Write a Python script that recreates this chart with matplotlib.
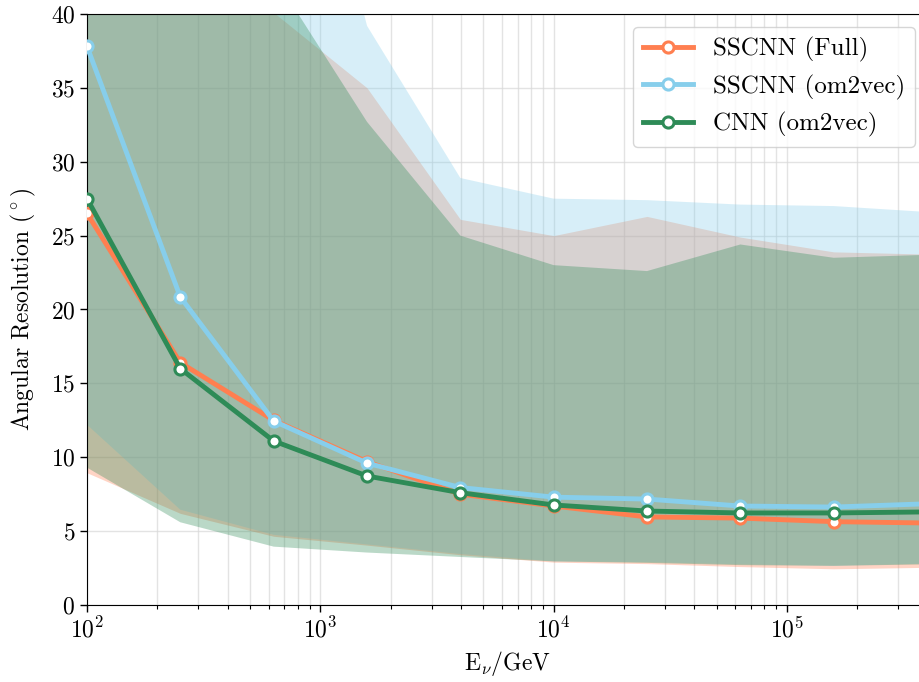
import matplotlib
matplotlib.use("Agg")
import matplotlib.pyplot as plt
from matplotlib.ticker import LogLocator, NullFormatter

# Neutrino energy bins (GeV)
energy = [100, 251, 631, 1585, 3981, 10000, 25119, 63096, 158489, 398107]

# SSCNN (Full): median and band
full_med = [26.5, 16.4, 12.5, 9.7, 7.5, 6.7, 5.96, 5.88, 5.64, 5.55]
full_lo = [8.95, 6.2, 4.65, 4.05, 3.4, 2.9, 2.8, 2.6, 2.45, 2.55]
full_hi = [48.0, 45.0, 40.1, 35.0, 26.1, 25.0, 26.3, 24.9, 23.9, 23.75]

# SSCNN (om2vec)
om_med = [37.8, 20.85, 12.45, 9.6, 7.95, 7.3, 7.17, 6.7, 6.63, 6.85]
om_lo = [12.2, 6.45, 4.75, 4.1, 3.45, 2.95, 2.9, 2.75, 2.65, 2.8]
om_hi = [75.0, 70.0, 64.0, 39.2, 28.9, 27.5, 27.4, 27.1, 27.0, 26.6]

# CNN (om2vec)
cnn_med = [27.5, 16.0, 11.1, 8.73, 7.6, 6.77, 6.36, 6.23, 6.23, 6.3]
cnn_lo = [9.3, 5.6, 3.95, 3.55, 3.25, 2.95, 2.85, 2.7, 2.65, 2.75]
cnn_hi = [50.0, 46.0, 42.6, 32.7, 25.0, 23.0, 22.6, 24.4, 23.5, 23.7]

labels = ["SSCNN (Full)", "SSCNN (om2vec)", "CNN (om2vec)"]
colors = ["#ff7f50", "#87ceeb", "#2e8b57"]

plt.rcParams['font.family'] = 'serif'
plt.rcParams['font.serif'] = ['cmr10']
plt.rcParams['mathtext.fontset'] = 'cm'
plt.rcParams['axes.formatter.use_mathtext'] = True
plt.rcParams['axes.unicode_minus'] = False

fig = plt.figure(figsize=(9.2, 6.82), dpi=100)
ax = fig.add_axes([0.0946, 0.1129, 0.9130, 0.8666])

# Bands first, then the medians on top
bands = [(full_lo, full_hi), (om_lo, om_hi), (cnn_lo, cnn_hi)]
for (lo, hi), c in zip(bands, colors):
    ax.fill_between(energy, lo, hi, color=c, alpha=0.33, lw=0, zorder=2)

meds = [full_med, om_med, cnn_med]
for med, c, lab in zip(meds, colors, labels):
    ax.plot(energy, med, color=c, lw=3.5, marker='o', markersize=8,
            markerfacecolor='white', markeredgecolor=c, markeredgewidth=2.2,
            label=lab, zorder=4)

ax.set_xscale('log')
ax.set_xlim(100, 398107)
ax.set_ylim(0, 40)
ax.set_yticks([0, 5, 10, 15, 20, 25, 30, 35, 40])
ax.xaxis.set_minor_locator(LogLocator(base=10, subs=range(2, 10), numticks=20))
ax.xaxis.set_minor_formatter(NullFormatter())

ax.grid(True, which='major', color='#d8d8d8', lw=1.0, alpha=0.7, zorder=1)
ax.grid(True, which='minor', axis='x', color='#d8d8d8', lw=1.0, alpha=0.7, zorder=1)
ax.set_axisbelow(True)

ax.tick_params(axis='both', which='major', labelsize=17, length=5, width=1)
ax.tick_params(axis='x', which='minor', length=3, width=0.8)
ax.spines['right'].set_visible(False)

ax.set_xlabel(r'E$_\nu$/GeV', fontsize=17, labelpad=5)
ax.set_ylabel(r'Angular Resolution $(^\circ)$', fontsize=17, labelpad=9)

leg = ax.legend(loc='upper right', bbox_to_anchor=(0.9946, 0.9604),
                bbox_transform=fig.transFigure, borderaxespad=0, fontsize=18,
                framealpha=0.8, edgecolor='#cccccc', fancybox=True)

fig.savefig('out.png', dpi=100)
